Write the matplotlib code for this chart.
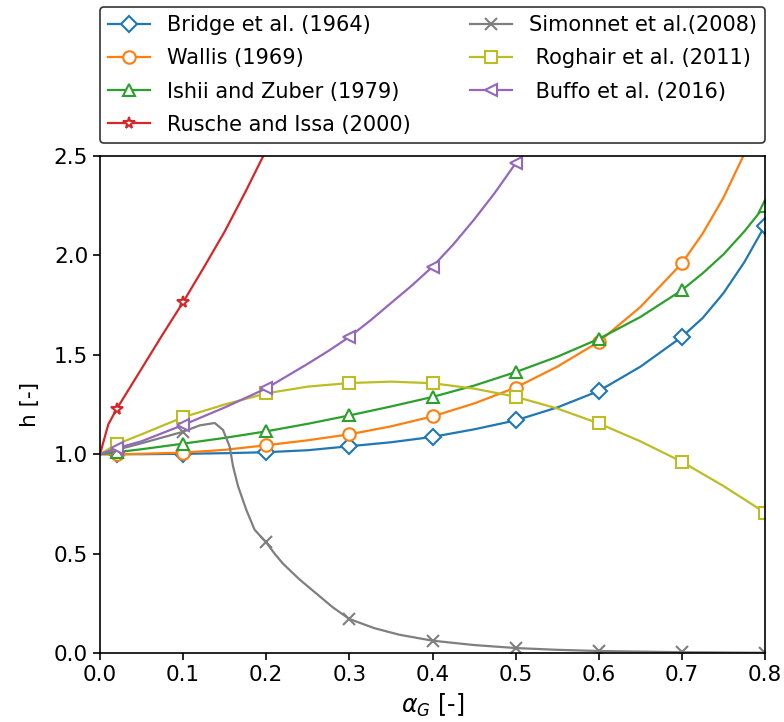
import numpy as np
import matplotlib
matplotlib.use("Agg")
import matplotlib.pyplot as plt

# ---- data ----
marker_x = [0.02, 0.1, 0.2, 0.3, 0.4, 0.5, 0.6, 0.7, 0.8]

x_std = [0.0, 0.02, 0.05, 0.1, 0.15, 0.2, 0.25, 0.3, 0.35, 0.4, 0.45, 0.5,
         0.55, 0.6, 0.65, 0.7, 0.725, 0.75, 0.775, 0.8]

bridge = [1.0, 1.0, 1.0, 1.002, 1.005, 1.01, 1.02, 1.04, 1.06, 1.087, 1.125, 1.17,
          1.235, 1.318, 1.44, 1.59, 1.685, 1.81, 1.965, 2.15]
wallis = [1.0, 1.0, 1.002, 1.008, 1.022, 1.045, 1.07, 1.10, 1.14, 1.19, 1.255, 1.335,
          1.44, 1.565, 1.74, 1.96, 2.11, 2.29, 2.51, 2.78]
ishii = [1.0, 1.01, 1.025, 1.053, 1.082, 1.115, 1.153, 1.195, 1.24, 1.288, 1.345, 1.413,
         1.49, 1.58, 1.69, 1.825, 1.91, 2.005, 2.12, 2.25]

x_roghair = [0.0, 0.02, 0.05, 0.1, 0.15, 0.2, 0.25, 0.3, 0.35, 0.4, 0.45, 0.5,
             0.55, 0.6, 0.65, 0.7, 0.75, 0.8]
roghair = [1.0, 1.05, 1.10, 1.186, 1.25, 1.306, 1.34, 1.358, 1.365, 1.357, 1.33, 1.289,
           1.23, 1.155, 1.065, 0.962, 0.84, 0.706]

x_rusche = [0.0, 0.01, 0.02, 0.05, 0.075, 0.1, 0.125, 0.15, 0.175, 0.2]
rusche = [1.0, 1.15, 1.227, 1.43, 1.6, 1.765, 1.94, 2.12, 2.32, 2.53]

x_simonnet = [0.0, 0.02, 0.05, 0.1, 0.12, 0.138, 0.148, 0.156, 0.16, 0.166, 0.176,
              0.186, 0.2, 0.21, 0.22, 0.24, 0.26, 0.28, 0.3, 0.33, 0.36, 0.4, 0.45,
              0.5, 0.55, 0.6, 0.7, 0.8]
simonnet = [1.0, 1.022, 1.055, 1.113, 1.145, 1.157, 1.122, 1.038, 0.94, 0.84, 0.72,
            0.62, 0.556, 0.50, 0.45, 0.37, 0.30, 0.23, 0.171, 0.125, 0.092, 0.062,
            0.04, 0.025, 0.016, 0.01, 0.004, 0.001]

x_buffo = [0.0, 0.02, 0.05, 0.1, 0.15, 0.2, 0.25, 0.275, 0.3, 0.325, 0.35, 0.375,
           0.4, 0.425, 0.45, 0.475, 0.5]
buffo = [1.0, 1.03, 1.065, 1.147, 1.235, 1.331, 1.455, 1.52, 1.59, 1.672, 1.76, 1.848,
         1.943, 2.055, 2.18, 2.315, 2.463]

labels = ["Bridge et al. (1964)", "Wallis (1969)", "Ishii and Zuber (1979)",
          "Rusche and Issa (2000)", "Simonnet et al.(2008)", " Roghair et al. (2011)",
          " Buffo et al. (2016)"]

series = [
    (x_std, bridge, "tab:blue", "D", 8),
    (x_std, wallis, "tab:orange", "o", 9),
    (x_std, ishii, "tab:green", "^", 9),
    (x_rusche, rusche, "tab:red", "*", 8.5),
    (x_simonnet, simonnet, "tab:gray", "x", 8.5),
    (x_roghair, roghair, "tab:olive", "s", 9),
    (x_buffo, buffo, "tab:purple", "<", 9),
]

fig = plt.figure(figsize=(7.84, 7.22), dpi=100)
ax = fig.add_axes([100 / 784, (722 - 653) / 722, 665 / 784, 497 / 722])

for (xs, ys, c, m, ms), lab in zip(series, labels):
    xs = np.asarray(xs)
    idx = [i for i, v in enumerate(xs) if np.any(np.isclose(v, marker_x))]
    ax.plot(xs, ys, color=c, lw=1.6, marker=m, markevery=idx, ms=ms,
            mfc="white", mec=c, mew=1.5, label=lab)

ax.set_xlim(0, 0.8)
ax.set_ylim(0, 2.5)
ax.set_xticks(np.arange(0, 0.81, 0.1))
ax.set_yticks(np.arange(0, 2.51, 0.5))
ax.tick_params(labelsize=15.5, length=5, width=1.2)
for s in ax.spines.values():
    s.set_linewidth(1.2)
ax.set_xlabel(r"$\alpha_G$ [-]", fontsize=17, labelpad=5)
ax.set_ylabel("h [-]", fontsize=15.5, labelpad=10)

leg = ax.legend(loc="lower left", bbox_to_anchor=(0, 1.026, 1, 0.3), mode="expand",
                ncol=2, fontsize=15, borderaxespad=0, frameon=True, fancybox=True,
                labelspacing=0.63)
leg.get_frame().set_edgecolor("0.2")
leg.get_frame().set_linewidth(1.2)
leg.get_frame().set_alpha(1)

fig.savefig("out.png", dpi=100)
